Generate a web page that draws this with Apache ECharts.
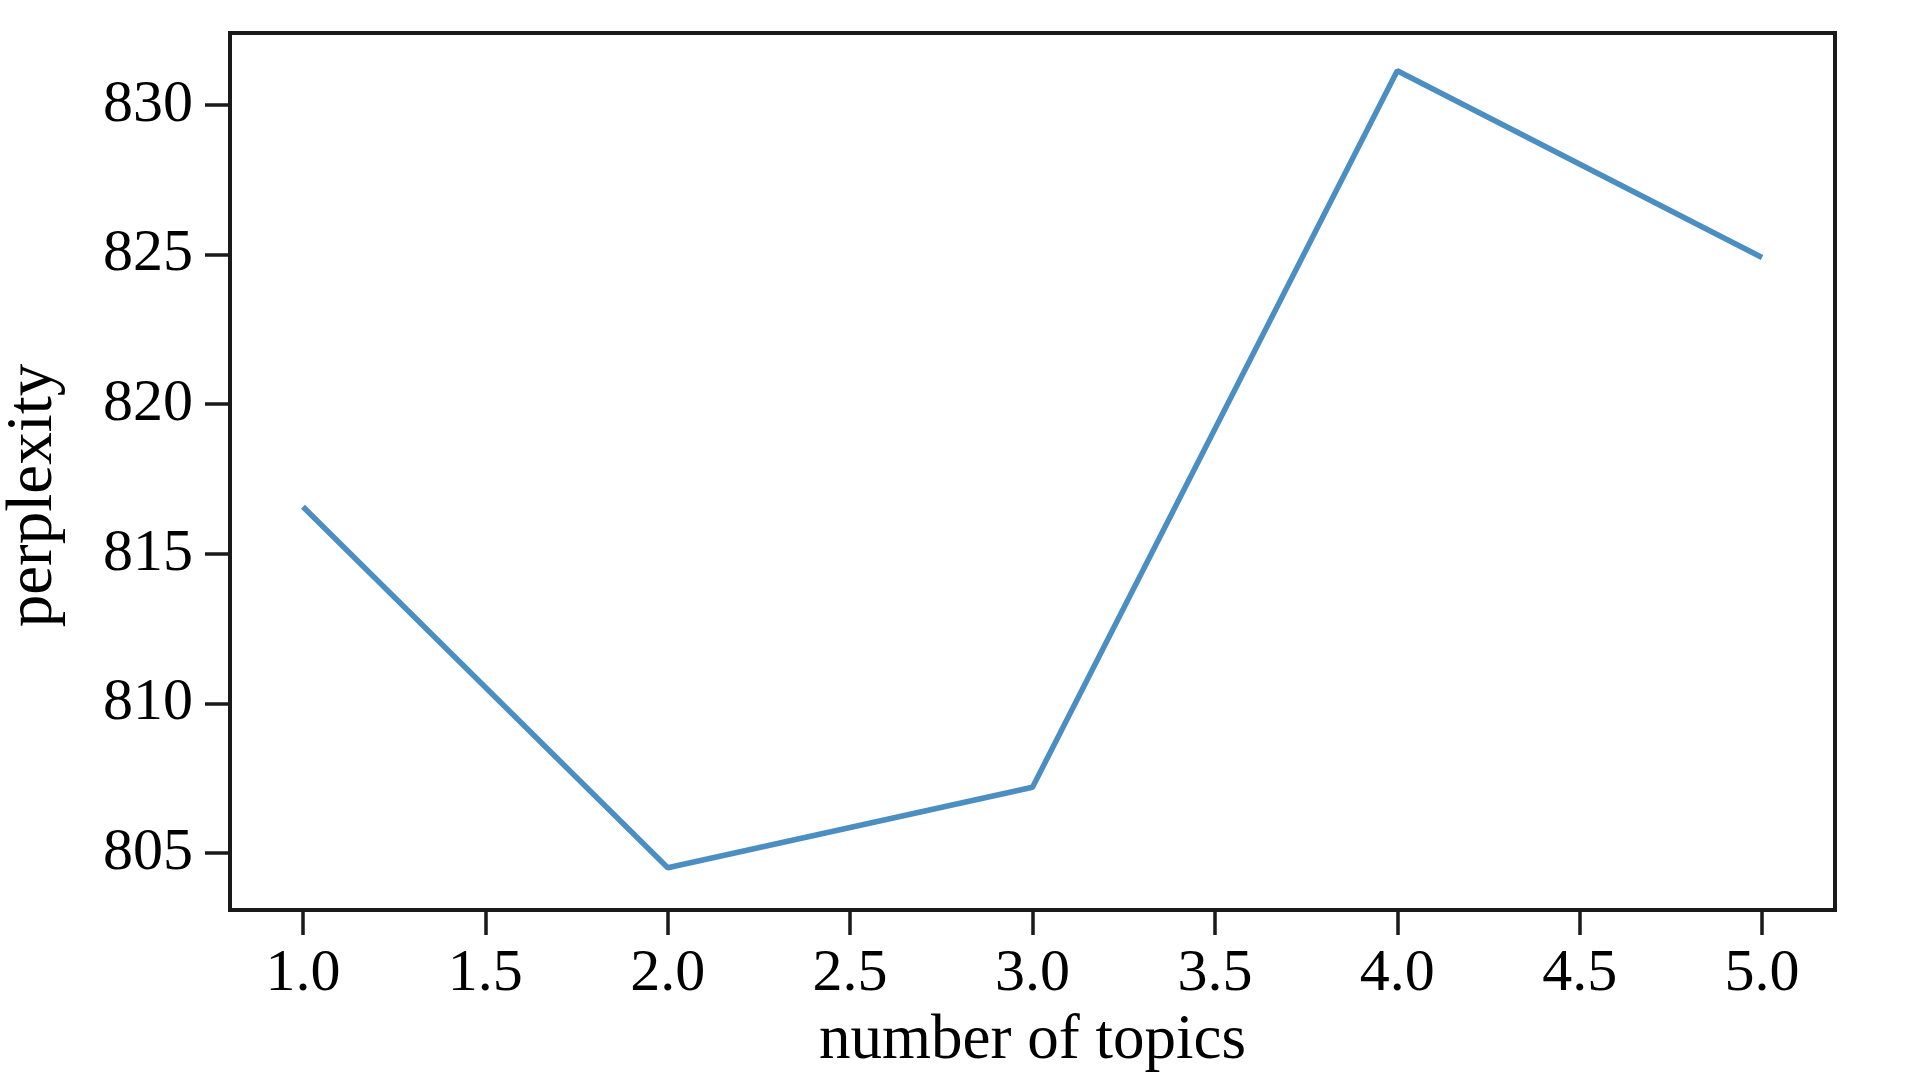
<!DOCTYPE html>
<html>
<head>
<meta charset="utf-8">
<style>
html,body{margin:0;padding:0;background:#fff;}
#chart{width:1906px;height:1080px;}
</style>
<script src="https://cdn.jsdelivr.net/npm/echarts@6/dist/echarts.min.js"></script>
</head>
<body>
<div id="chart"></div>
<script>
const topics = [1, 2, 3, 4, 5];
const perplexity = [816.57, 804.51, 807.2, 831.14, 824.9];
const xTicks = [1.0, 1.5, 2.0, 2.5, 3.0, 3.5, 4.0, 4.5, 5.0];
const yTicks = [805, 810, 815, 820, 825, 830];

const font = 'Liberation Serif';
const axisColor = '#1a1a1a';

const chart = echarts.init(document.getElementById('chart'), null, {renderer: 'canvas'});
chart.setOption({
  animation: false,
  backgroundColor: '#fff',
  grid: {
    left: 230, right: 71, top: 33, bottom: 170,
    containLabel: false,
    outerBoundsMode: 'none',
    show: true, borderColor: axisColor, borderWidth: 4, backgroundColor: 'transparent'
  },
  xAxis: {
    type: 'value',
    min: 0.8, max: 5.2,
    name: 'number of topics',
    nameLocation: 'middle',
    nameGap: 100,
    nameMoveOverlap: false,
    nameTextStyle: {fontFamily: font, fontSize: 63, color: '#000'},
    axisLine: {show: true, lineStyle: {color: axisColor, width: 4}},
    axisTick: {show: true, length: 25, lineStyle: {color: axisColor, width: 3.5}, customValues: xTicks},
    axisLabel: {
      fontFamily: font, fontSize: 60, color: '#000', margin: 34,
      customValues: xTicks,
      formatter: v => Number(v).toFixed(1)
    },
    splitLine: {show: false}
  },
  yAxis: {
    type: 'value',
    min: 803.1, max: 832.4,
    name: 'perplexity',
    nameLocation: 'middle',
    nameGap: 164,
    nameMoveOverlap: false,
    nameTextStyle: {fontFamily: font, fontSize: 65, color: '#000', padding: [0, 48, 0, 0]},
    axisLine: {show: true, lineStyle: {color: axisColor, width: 4}},
    axisTick: {show: true, length: 25, lineStyle: {color: axisColor, width: 3.5}, customValues: yTicks},
    axisLabel: {
      fontFamily: font, fontSize: 60, color: '#000', margin: 37,
      customValues: yTicks,
      formatter: v => String(Math.round(v))
    },
    splitLine: {show: false}
  },
  series: [{
    type: 'line',
    data: topics.map((t, i) => [t, perplexity[i]]),
    showSymbol: false,
    lineStyle: {color: '#4a8ec2', width: 5.5},
    itemStyle: {color: '#4a8ec2'}
  }]
});
</script>
</body>
</html>
